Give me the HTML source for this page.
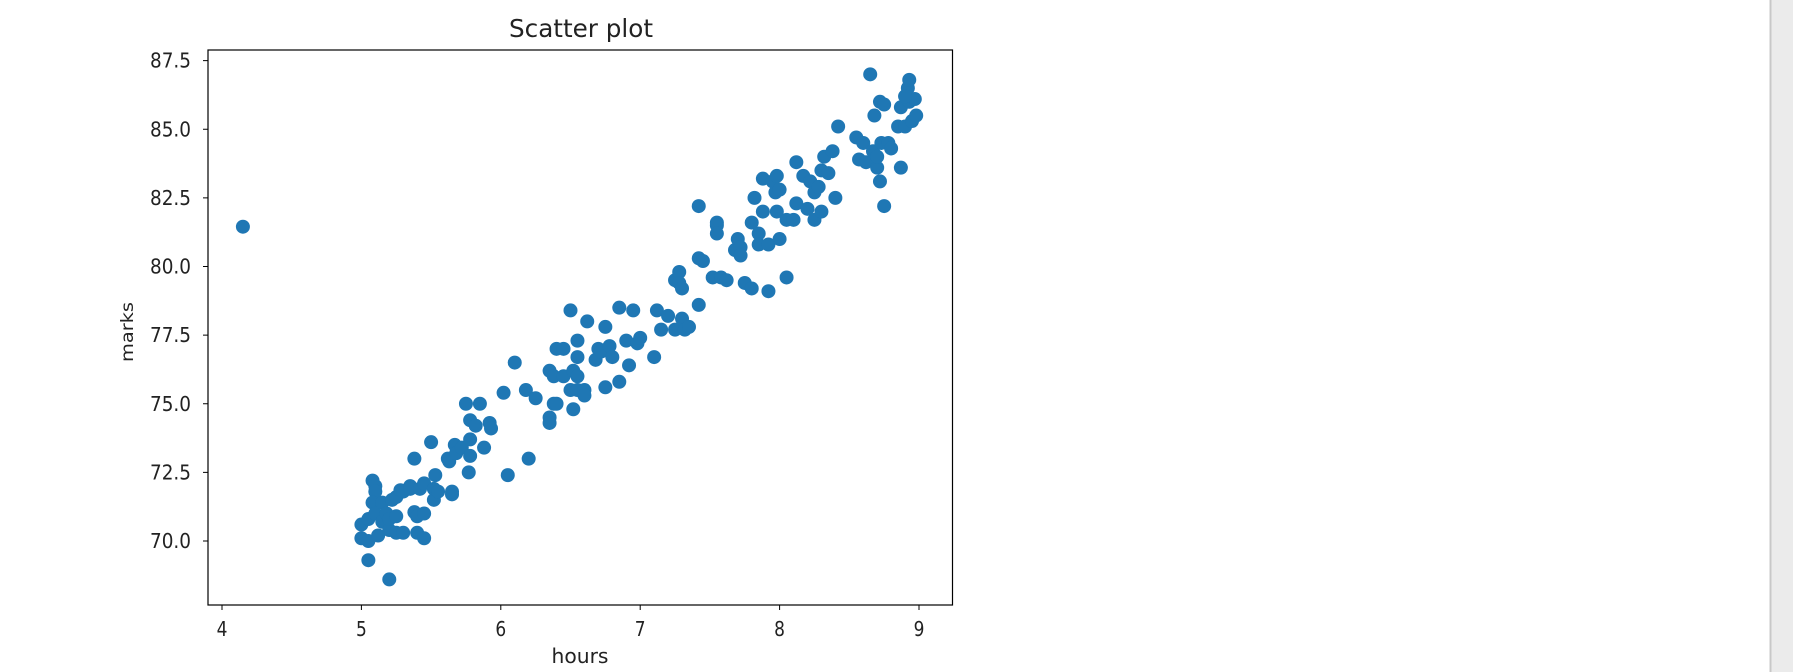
<!DOCTYPE html>
<html><head><meta charset="utf-8"><style>
html,body{margin:0;padding:0;background:#fff;width:1793px;height:672px;overflow:hidden}
text{font-family:"DejaVu Sans","Liberation Sans",sans-serif;fill:#222}
</style></head><body>
<svg id="chart" width="1793" height="672" xmlns="http://www.w3.org/2000/svg">
<rect x="0" y="0" width="1793" height="672" fill="#fff"/>
<rect x="1770" y="0" width="23" height="672" fill="#ebebeb"/>
<line x1="1770.5" y1="0" x2="1770.5" y2="672" stroke="#c8c8c8" stroke-width="2"/>
<text x="581" y="37" font-size="25" text-anchor="middle" textLength="144" lengthAdjust="spacingAndGlyphs">Scatter plot</text>
<text x="580" y="663" font-size="20" text-anchor="middle" textLength="57" lengthAdjust="spacingAndGlyphs">hours</text>
<text x="0" y="0" font-size="20" text-anchor="middle" textLength="60" lengthAdjust="spacingAndGlyphs" transform="translate(133,332) rotate(-90) scale(1,0.85)">marks</text>
<g id="marks"></g>
<g id="axes"></g>
<rect x="208" y="50" width="744.5" height="555" fill="none" stroke="#000" stroke-width="1.2"/>
</svg>
<script>
const xTicks=[4,5,6,7,8,9];
const yTicks=[70.0,72.5,75.0,77.5,80.0,82.5,85.0,87.5];
const hours=[4.15,5.0,5.0,5.05,5.05,5.05,5.08,5.1,5.1,5.08,5.1,5.12,5.15,5.15,5.18,5.2,5.2,5.2,5.22,5.25,5.25,5.25,5.28,5.3,5.3,5.35,5.35,5.38,5.38,5.4,5.4,5.42,5.45,5.45,5.45,5.5,5.52,5.52,5.53,5.55,5.62,5.63,5.65,5.65,5.67,5.68,5.72,5.75,5.77,5.78,5.78,5.78,5.82,5.85,5.88,5.92,5.93,6.02,6.05,6.1,6.18,6.2,6.25,6.35,6.35,6.35,6.38,6.38,6.4,6.4,6.45,6.45,6.5,6.5,6.52,6.52,6.55,6.55,6.55,6.55,6.6,6.6,6.62,6.68,6.7,6.72,6.75,6.75,6.78,6.8,6.85,6.85,6.9,6.92,6.95,6.98,7.0,7.1,7.12,7.15,7.2,7.25,7.25,7.28,7.28,7.3,7.3,7.32,7.35,7.42,7.42,7.42,7.45,7.52,7.55,7.55,7.55,7.58,7.62,7.68,7.7,7.72,7.72,7.75,7.8,7.8,7.82,7.85,7.85,7.88,7.88,7.92,7.92,7.95,7.97,7.98,7.98,8.0,8.0,8.05,8.05,8.1,8.12,8.12,8.17,8.2,8.22,8.25,8.25,8.28,8.3,8.3,8.32,8.35,8.38,8.4,8.42,8.55,8.57,8.6,8.62,8.65,8.67,8.68,8.7,8.7,8.72,8.72,8.73,8.75,8.75,8.78,8.8,8.85,8.87,8.87,8.9,8.92,8.93,8.93,8.95,8.97,8.98,8.9];
const marks=[81.45,70.1,70.6,70.8,70.0,69.3,72.2,72.0,71.8,71.4,71.0,70.2,71.4,70.7,71.0,70.4,70.8,68.6,71.5,71.6,70.9,70.3,71.85,70.3,71.8,72.0,71.9,73.0,71.05,70.9,70.3,71.9,71.0,70.1,72.1,73.6,71.5,71.9,72.4,71.8,73.0,72.9,71.7,71.8,73.5,73.2,73.4,75.0,72.5,73.7,73.1,74.4,74.2,75.0,73.4,74.3,74.1,75.4,72.4,76.5,75.5,73.0,75.2,74.5,74.3,76.2,76.0,75.0,75.0,77.0,77.0,76.0,78.4,75.5,74.8,76.2,77.3,76.7,76.0,75.5,75.5,75.3,78.0,76.6,77.0,76.9,75.6,77.8,77.1,76.7,78.5,75.8,77.3,76.4,78.4,77.2,77.4,76.7,78.4,77.7,78.2,77.7,79.5,79.8,79.4,79.2,78.1,77.7,77.8,78.6,80.3,82.2,80.2,79.6,81.6,81.5,81.2,79.6,79.5,80.6,81.0,80.7,80.4,79.4,79.2,81.6,82.5,81.2,80.8,82.0,83.2,80.8,79.1,83.1,82.7,82.0,83.3,81.0,82.8,79.6,81.7,81.7,83.8,82.3,83.3,82.1,83.1,81.7,82.7,82.9,83.5,82.0,84.0,83.4,84.2,82.5,85.1,84.7,83.9,84.5,83.8,87.0,84.2,85.5,83.6,84.0,83.1,86.0,84.5,82.2,85.9,84.5,84.3,85.1,83.6,85.8,85.1,86.5,86.8,86.0,85.3,86.1,85.5,86.2];
const NS='http://www.w3.org/2000/svg';
function xScale(v){return 222+(v-4)*139.4;}
function yScale(v){return 541-(v-70)*27.45;}
const mg=document.getElementById('marks');
for(let i=0;i<hours.length;i++){
  const c=document.createElementNS(NS,'circle');
  c.setAttribute('cx',xScale(hours[i]));c.setAttribute('cy',yScale(marks[i]));
  c.setAttribute('r',7);c.setAttribute('fill','#1f77b4');
  
  
  mg.appendChild(c);
}
const ag=document.getElementById('axes');
xTicks.forEach(t=>{
  const x=xScale(t);
  const l=document.createElementNS(NS,'line');
  l.setAttribute('x1',x);l.setAttribute('x2',x);l.setAttribute('y1',605);l.setAttribute('y2',610);l.setAttribute('stroke','#000');
  
  
  ag.appendChild(l);
  const tx=document.createElementNS(NS,'text');
  tx.setAttribute('x',x);tx.setAttribute('y',636);tx.setAttribute('font-size','20');tx.setAttribute('text-anchor','middle');
  tx.setAttribute('transform','translate('+x+',0) scale(0.85,1) translate('+(-x)+',0)');
  tx.textContent=String(t);
  
  
  ag.appendChild(tx);
});
yTicks.forEach(t=>{
  const y=yScale(t);
  const l=document.createElementNS(NS,'line');
  l.setAttribute('x1',203);l.setAttribute('x2',208);l.setAttribute('y1',y);l.setAttribute('y2',y);l.setAttribute('stroke','#000');
  
  
  ag.appendChild(l);
  const tx=document.createElementNS(NS,'text');
  tx.setAttribute('x',191);tx.setAttribute('y',y+7);tx.setAttribute('font-size','20');tx.setAttribute('text-anchor','end');
  tx.setAttribute('textLength','41');tx.setAttribute('lengthAdjust','spacingAndGlyphs');
  tx.textContent=t.toFixed(1);
  
  
  ag.appendChild(tx);
});
</script>
</body></html>
